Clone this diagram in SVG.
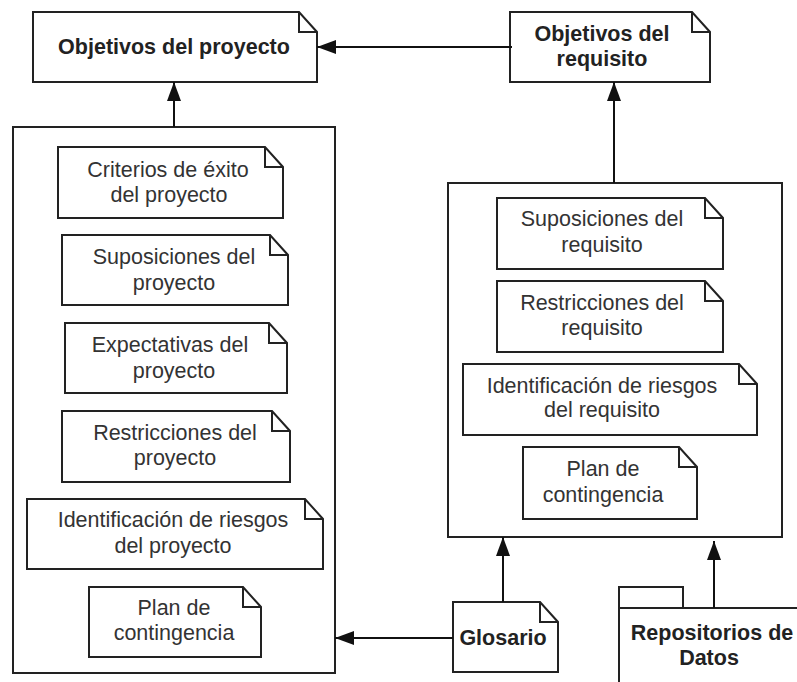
<svg xmlns="http://www.w3.org/2000/svg" width="797" height="682" viewBox="0 0 797 682">
<style>
.shape{fill:#fff;stroke:#222;stroke-width:2;stroke-linejoin:miter}
.fold{fill:none;stroke:#222;stroke-width:2}
.t{font-family:"Liberation Sans",Arial,sans-serif;font-size:21.5px;fill:#333;text-anchor:middle}
.b{font-family:"Liberation Sans",Arial,sans-serif;font-size:21.5px;font-weight:bold;fill:#222;text-anchor:middle}
.edge{fill:none;stroke:#111;stroke-width:2}
</style>
<defs>
<marker id="arr" markerUnits="userSpaceOnUse" markerWidth="20" markerHeight="16" refX="19" refY="7" orient="auto">
<path d="M0,0 L19,7 L0,14 Z" fill="#111"/>
</marker>
</defs>
<rect width="797" height="682" fill="#fff"/>

<g id="containerProyecto"><rect class="shape" x="13" y="127" width="322" height="546"/></g>
<g id="containerRequisito"><rect class="shape" x="448" y="183" width="334" height="354"/></g>

<g id="objProyecto">
<path class="shape" d="M33,12 H299 L317,32 V82 H33 Z"/><path class="fold" d="M299,12 V32 H317"/>
<text class="b" x="174" y="54">Objetivos del proyecto</text>
</g>
<g id="objRequisito">
<path class="shape" d="M510,12 H692 L710,32 V82 H510 Z"/><path class="fold" d="M692,12 V32 H710"/>
<text class="b" x="602" y="41">Objetivos del</text>
<text class="b" x="602" y="66">requisito</text>
</g>

<g id="criterios">
<path class="shape" d="M58,147 H265 L283,167 V218 H58 Z"/><path class="fold" d="M265,147 V167 H283"/>
<text class="t" x="168" y="177">Criterios de éxito</text><text class="t" x="169" y="202">del proyecto</text>
</g>
<g id="suposicionesP">
<path class="shape" d="M62,235 H270 L288,255 V305 H62 Z"/><path class="fold" d="M270,235 V255 H288"/>
<text class="t" x="174" y="264">Suposiciones del</text><text class="t" x="174" y="290">proyecto</text>
</g>
<g id="expectativasP">
<path class="shape" d="M65,323 H269 L287,343 V393 H65 Z"/><path class="fold" d="M269,323 V343 H287"/>
<text class="t" x="170" y="352">Expectativas del</text><text class="t" x="174" y="378">proyecto</text>
</g>
<g id="restriccionesP">
<path class="shape" d="M62,411 H272 L290,431 V482 H62 Z"/><path class="fold" d="M272,411 V431 H290"/>
<text class="t" x="175" y="440">Restricciones del</text><text class="t" x="175" y="465">proyecto</text>
</g>
<g id="riesgosP">
<path class="shape" d="M27,499 H305 L323,519 V569 H27 Z"/><path class="fold" d="M305,499 V519 H323"/>
<text class="t" x="173" y="527">Identificación de riesgos</text><text class="t" x="173" y="553">del proyecto</text>
</g>
<g id="planP">
<path class="shape" d="M89,587 H243 L261,607 V657 H89 Z"/><path class="fold" d="M243,587 V607 H261"/>
<text class="t" x="174" y="615">Plan de</text><text class="t" x="174" y="640">contingencia</text>
</g>

<g id="suposicionesR">
<path class="shape" d="M497,198 H705 L723,218 V269 H497 Z"/><path class="fold" d="M705,198 V218 H723"/>
<text class="t" x="602" y="226">Suposiciones del</text><text class="t" x="602" y="252">requisito</text>
</g>
<g id="restriccionesR">
<path class="shape" d="M497,281 H705 L723,301 V352 H497 Z"/><path class="fold" d="M705,281 V301 H723"/>
<text class="t" x="602" y="310">Restricciones del</text><text class="t" x="602" y="335">requisito</text>
</g>
<g id="riesgosR">
<path class="shape" d="M463,364 H739 L757,384 V435 H463 Z"/><path class="fold" d="M739,364 V384 H757"/>
<text class="t" x="602" y="393">Identificación de riesgos</text><text class="t" x="602" y="417">del requisito</text>
</g>
<g id="planR">
<path class="shape" d="M523,447 H679 L697,467 V519 H523 Z"/><path class="fold" d="M679,447 V467 H697"/>
<text class="t" x="603" y="476">Plan de</text><text class="t" x="603" y="502">contingencia</text>
</g>

<g id="glosario">
<path class="shape" d="M453,602 H540 L558,622 V672 H453 Z"/><path class="fold" d="M540,602 V622 H558"/>
<text class="b" x="503" y="645">Glosario</text>
</g>
<g id="repositorios">
<rect class="shape" x="619" y="587" width="64" height="21"/>
<rect class="shape" x="619" y="608" width="190" height="90"/>
<text class="b" x="712" y="640">Repositorios de</text>
<text class="b" x="709" y="665">Datos</text>
</g>

<g id="connectors">
<path class="edge" d="M512,47 H317" marker-end="url(#arr)"/>
<path class="edge" d="M174,127 V82" marker-end="url(#arr)"/>
<path class="edge" d="M614,183 V82" marker-end="url(#arr)"/>
<path class="edge" d="M503,602 V537" marker-end="url(#arr)"/>
<path class="edge" d="M714,608 V541" marker-end="url(#arr)"/>
<path class="edge" d="M453,638 H335" marker-end="url(#arr)"/>
</g>
</svg>
